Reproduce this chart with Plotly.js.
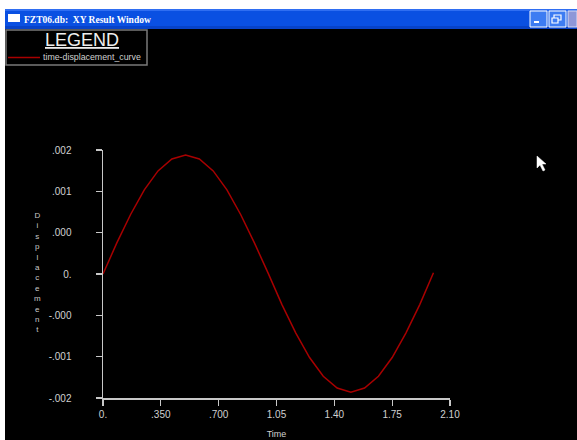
<!DOCTYPE html>
<html>
<head>
<meta charset="utf-8">
<script src="https://cdn.plot.ly/plotly-3.0.1.min.js"></script>
<style>
html,body{margin:0;padding:0;background:#fff;overflow:hidden;}
#chart{width:577px;height:440px;}
</style>
</head>
<body>
<div id="chart"></div>
<script>
// ---- data ----
const time = [0, 0.083, 0.167, 0.25, 0.333, 0.417, 0.5, 0.583, 0.667, 0.75, 0.833, 0.917, 1.0,
              1.083, 1.167, 1.25, 1.333, 1.417, 1.5, 1.583, 1.667, 1.75, 1.833, 1.917, 2.0];
const displacement = [0, 0.000497, 0.00096, 0.001358, 0.001663, 0.001855, 0.00192, 0.001855,
              0.001663, 0.001358, 0.00096, 0.000497, 0.00001, -0.000493, -0.000953, -0.001347,
              -0.00165, -0.00184, -0.001905, -0.00184, -0.00165, -0.001347, -0.000953, -0.000493, 0.00002];
const xTickVals = [0, 0.35, 0.7, 1.05, 1.4, 1.75, 2.1];
const xTickText = ['0.', '.350', '.700', '1.05', '1.40', '1.75', '2.10'];
const yTickVals = [0.002, 0.001333, 0.000667, 0, -0.000667, -0.001333, -0.002];
const yTickText = ['.002', '.001', '.000', '0.', '-.000', '-.001', '-.002'];
const seriesName = 'time-displacement_curve';
const legendTitle = 'LEGEND';
const windowTitle = 'FZT06.db:  XY Result Window';
const xTitle = 'Time';
const yTitle = 'Displacement';
const curveColor = '#a80000';

// ---- layout geometry ----
const W = 577, H = 440;
const M = {l: 103, r: 127, t: 150, b: 42};
const PW = W - M.l - M.r, PH = H - M.t - M.b;
const fx = px => (px - M.l) / PW;
const fy = py => (H - M.b - py) / PH;
function rect(x0, y0, x1, y1, fill, line, lw) {
  return {type: 'rect', xref: 'paper', yref: 'paper', layer: 'above',
    x0: fx(x0), x1: fx(x1), y0: fy(y1), y1: fy(y0),
    fillcolor: fill, line: {color: line || fill, width: lw === undefined ? 0 : lw}};
}
function seg(x0, y0, x1, y1, color, w) {
  return {type: 'line', xref: 'paper', yref: 'paper', x0: fx(x0), x1: fx(x1), y0: fy(y0), y1: fy(y1),
    line: {color: color, width: w}};
}
function path(pts, fill) {
  const d = pts.map((p, i) => (i ? 'L' : 'M') + fx(p[0]) + ',' + fy(p[1])).join(' ') + ' Z';
  return {type: 'path', xref: 'paper', yref: 'paper', path: d, fillcolor: fill, line: {color: fill, width: 0.5}};
}

const shapes = [
  // window frame: white strips
  rect(0, 0, 577, 9, '#ffffff'),
  rect(0, 0, 5, 440, '#ffffff'),
  // title bar
  rect(5, 9, 577, 29, '#0a50e2'),
  rect(5, 9, 577, 11, '#2f6ef2'),
  rect(5, 26, 577, 29, '#0843c8'),
  // title icon
  rect(8, 14, 20, 22, '#ffffff'),
  // buttons
  rect(530, 11, 547, 27, '#3d7cf2', '#ffffff', 1),
  rect(534, 21, 539, 23, '#ffffff'),
  rect(549, 11, 566, 27, '#3d7cf2', '#ffffff', 1),
  rect(554, 15, 561, 20, 'rgba(0,0,0,0)', '#ffffff', 1.2),
  rect(552, 18, 558, 23, '#3d7cf2', '#ffffff', 1.2),
  rect(568, 11, 577, 27, '#8f97d8', '#d8dcf4', 1),
  // legend box and sample line
  rect(6, 30, 147, 65, 'rgba(0,0,0,0)', '#7a7a7a', 1.5),
  seg(8, 57.5, 40, 57.5, curveColor, 1.5),
  // mouse cursor
  path([[537, 156], [537, 168], [540, 165], [543, 171], [545, 170], [542, 164], [546, 164]], '#ffffff')
];

const annotations = [
  {text: '<b>' + windowTitle + '</b>', xref: 'paper', yref: 'paper', x: fx(22), y: fy(19.5),
   xanchor: 'left', yanchor: 'middle', showarrow: false,
   font: {family: 'Liberation Serif, DejaVu Serif, serif', size: 9.5, color: '#ffffff'}},
  {text: yTitle.split('').join('<br>'), xref: 'paper', yref: 'paper', x: fx(37), y: fy(272),
   xanchor: 'center', yanchor: 'middle', showarrow: false,
   font: {family: 'Liberation Sans, Arial, sans-serif', size: 8, color: '#c8c8c8'}},
  {text: '<u>' + legendTitle + '</u>', xref: 'paper', yref: 'paper', x: fx(82), y: fy(40),
   xanchor: 'center', yanchor: 'middle', showarrow: false,
   font: {family: 'Liberation Sans, Arial, sans-serif', size: 18, color: '#eeeeee'}},
  {text: seriesName, xref: 'paper', yref: 'paper', x: fx(41), y: fy(57.5),
   xanchor: 'left', yanchor: 'middle', showarrow: false,
   font: {family: 'Liberation Sans, Arial, sans-serif', size: 8.8, color: '#d0d0d0'}}
];

const trace = {
  x: time, y: displacement, type: 'scatter', mode: 'lines', name: seriesName,
  line: {color: curveColor, width: 1.5}, showlegend: false
};

const axisCommon = {
  showgrid: false, zeroline: false, showline: true, linecolor: '#c8c8c8', linewidth: 1.5,
  ticks: 'outside', ticklen: 6, tickwidth: 1.2, tickcolor: '#c8c8c8', tickmode: 'array',
  tickfont: {family: 'Liberation Sans Narrow, Liberation Sans, Arial, sans-serif', size: 10, color: '#d0d0d0'},
  fixedrange: true
};

const layout = {
  width: W, height: H, margin: M,
  paper_bgcolor: '#000000', plot_bgcolor: '#000000',
  showlegend: false,
  xaxis: Object.assign({}, axisCommon, {
    range: [0, 2.1], tickvals: xTickVals, ticktext: xTickText,
    title: {text: xTitle, standoff: 12,
            font: {family: 'Liberation Sans Narrow, Liberation Sans, Arial, sans-serif', size: 9, color: '#d0d0d0'}}
  }),
  yaxis: Object.assign({}, axisCommon, {
    range: [-0.002, 0.002], tickvals: yTickVals, ticktext: yTickText, ticklabelstandoff: 22
  }),
  shapes: shapes,
  annotations: annotations
};

Plotly.newPlot('chart', [trace], layout, {displayModeBar: false, staticPlot: true});
</script>
</body>
</html>
